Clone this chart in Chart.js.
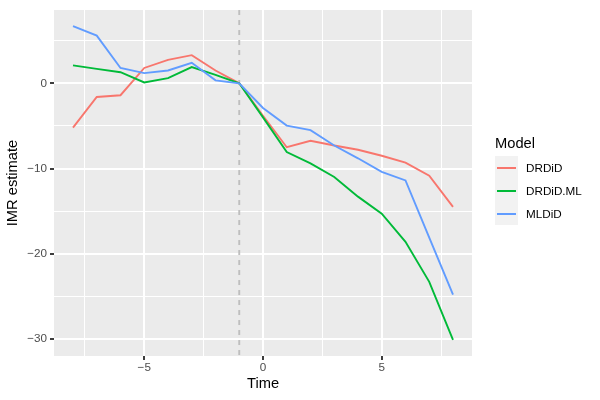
<!DOCTYPE html>
<html>
<head>
<meta charset="utf-8">
<script src="https://cdn.jsdelivr.net/npm/chart.js@4/dist/chart.umd.min.js"></script>
<style>
  body { margin: 0; background: #fff; font-family: "Liberation Sans", Arial, sans-serif; }
  #wrap { position: relative; width: 600px; height: 400px; }
  #legend { position: absolute; left: 495px; top: 133px; }
  #legend .title { font-size: 14.7px; color: #000; height: 23px; line-height: 20px; }
  #legend .item { display: flex; align-items: center; height: 23px; }
  #legend .key { width: 23px; height: 23px; background: #F2F2F2; position: relative; }
  #legend .key span { position: absolute; left: 2px; right: 2px; top: 10.5px; height: 2px; }
  #legend .label { font-size: 11.7px; color: #000; margin-left: 8px; }
</style>
</head>
<body>
<div id="wrap">
  <canvas id="imrChart" width="600" height="400"></canvas>
  <div id="legend"></div>
</div>
<script>
// Dữ liệu
const times = [-8, -7, -6, -5, -4, -3, -2, -1, 0, 1, 2, 3, 4, 5, 6, 7, 8];
const drdid = [-5.2, -1.6, -1.4, 1.8, 2.75, 3.3, 1.5, 0, -3.8, -7.5, -6.75, -7.3, -7.8, -8.5, -9.3, -10.85, -14.5];
const drdidML = [2.1, 1.7, 1.3, 0.1, 0.6, 1.9, 1.0, 0, -4.0, -8.06, -9.4, -11.0, -13.3, -15.3, -18.6, -23.3, -30.1];
const mldid = [6.7, 5.6, 1.8, 1.2, 1.5, 2.4, 0.35, 0, -2.9, -4.96, -5.5, -7.3, -8.8, -10.4, -11.4, -18.1, -24.8];
const seriesNames = ['DRDiD', 'DRDiD.ML', 'MLDiD'];
const seriesColors = ['#F8766D', '#00BA38', '#619CFF'];
const xMajorTicks = [-5, 0, 5];
const xMinorTicks = [-7.5, -2.5, 2.5, 7.5];
const yMajorTicks = [-30, -20, -10, 0];
const yMinorTicks = [-25, -15, -5, 5];
const treatLine = -1;

const tickFont = { family: '"Liberation Sans", Arial, sans-serif', size: 11.7 };
const titleFont = { family: '"Liberation Sans", Arial, sans-serif', size: 14.7 };

function toPoints(values) {
    return times.map((t, i) => ({ x: t, y: values[i] }));
}

function isMajor(list, v) {
    return list.indexOf(v) !== -1;
}

// Nền xám của panel + đường đứt nét
const panelPlugin = {
    id: 'panel',
    beforeDraw(chart) {
        const { ctx, chartArea } = chart;
        ctx.save();
        ctx.fillStyle = '#EBEBEB';
        ctx.fillRect(chartArea.left, chartArea.top, chartArea.right - chartArea.left, chartArea.bottom - chartArea.top);
        ctx.restore();
    },
    beforeDatasetsDraw(chart) {
        const { ctx, chartArea, scales } = chart;
        const px = scales.x.getPixelForValue(treatLine);
        ctx.save();
        ctx.strokeStyle = '#BEBEBE';
        ctx.lineWidth = 1.9;
        ctx.setLineDash([5, 5]);
        ctx.beginPath();
        ctx.moveTo(px, chartArea.top);
        ctx.lineTo(px, chartArea.bottom);
        ctx.stroke();
        ctx.restore();
    }
};

const allValues = [drdid, drdidML, mldid];

new Chart(document.getElementById('imrChart'), {
    type: 'line',
    data: {
        datasets: allValues.map((vals, i) => ({
            label: seriesNames[i],
            data: toPoints(vals),
            borderColor: seriesColors[i],
            borderWidth: 1.9,
            pointRadius: 0,
            tension: 0,
            fill: false,
            order: 3 - i
        }))
    },
    options: {
        responsive: false,
        animation: false,
        layout: { padding: { top: 7, right: 128, left: 0, bottom: 0 } },
        plugins: {
            legend: { display: false },
            tooltip: { enabled: false }
        },
        scales: {
            x: {
                type: 'linear',
                min: -8.8,
                max: 8.8,
                border: { display: false },
                afterBuildTicks: (axis) => {
                    axis.ticks = xMajorTicks.concat(xMinorTicks).sort((a, b) => a - b).map(v => ({ value: v }));
                },
                afterFit: (scale) => { scale.height = 44; },
                grid: {
                    color: '#FFFFFF',
                    lineWidth: (c) => isMajor(xMajorTicks, c.tick.value) ? 2 : 1,
                    tickColor: (c) => isMajor(xMajorTicks, c.tick.value) ? '#333333' : 'rgba(0,0,0,0)',
                    tickLength: 4,
                    tickWidth: 1.9
                },
                ticks: {
                    autoSkip: false,
                    maxRotation: 0,
                    padding: 1,
                    color: '#4D4D4D',
                    font: tickFont,
                    callback: (v) => isMajor(xMajorTicks, v) ? String(v).replace('-', '\u2212') : ''
                },
                title: {
                    display: true,
                    text: 'Time',
                    color: '#000',
                    font: titleFont,
                    padding: { top: 0, bottom: 7 }
                }
            },
            y: {
                type: 'linear',
                min: -32.0,
                max: 8.6,
                border: { display: false },
                afterBuildTicks: (axis) => {
                    axis.ticks = yMajorTicks.concat(yMinorTicks).sort((a, b) => a - b).map(v => ({ value: v }));
                },
                afterFit: (scale) => { scale.width = 54; },
                grid: {
                    color: '#FFFFFF',
                    lineWidth: (c) => isMajor(yMajorTicks, c.tick.value) ? 2 : 1,
                    tickColor: (c) => isMajor(yMajorTicks, c.tick.value) ? '#333333' : 'rgba(0,0,0,0)',
                    tickLength: 4,
                    tickWidth: 1.9
                },
                ticks: {
                    autoSkip: false,
                    padding: 3,
                    color: '#4D4D4D',
                    font: tickFont,
                    callback: (v) => isMajor(yMajorTicks, v) ? String(v).replace('-', '\u2212') : ''
                },
                title: {
                    display: true,
                    text: 'IMR estimate',
                    color: '#000',
                    font: titleFont,
                    padding: { top: 4, bottom: 0 }
                }
            }
        }
    },
    plugins: [panelPlugin]
});

// Chú thích (legend) kiểu ggplot
const legend = document.getElementById('legend');
let html = '<div class="title">Model</div>';
seriesNames.forEach((name, i) => {
    html += '<div class="item"><div class="key"><span style="background:' + seriesColors[i] + '"></span></div>' +
            '<div class="label">' + name + '</div></div>';
});
legend.innerHTML = html;
</script>
</body>
</html>
